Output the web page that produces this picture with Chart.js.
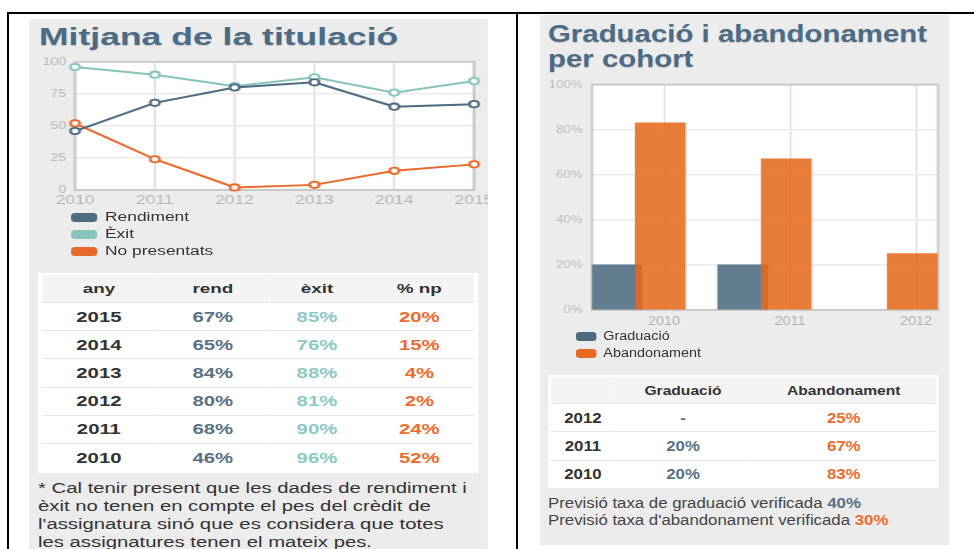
<!DOCTYPE html>
<html><head><meta charset="utf-8">
<script src="https://cdn.jsdelivr.net/npm/chart.js@4.4.1/dist/chart.umd.min.js"></script>
<style>
html,body{margin:0;padding:0;background:#fff;}
body{width:974px;height:549px;position:relative;overflow:hidden;font-family:"Liberation Sans",Arial,Helvetica,sans-serif;}
.bl{position:absolute;background:#000}
.panel{position:absolute;background:#ececec;overflow:hidden;transform-origin:0 0}
.abs{position:absolute;white-space:nowrap}
.title{font-weight:bold;font-size:24.5px;color:#4b6b86;text-shadow:0 1px 1px rgba(0,0,0,.15)}
.lg-box{position:absolute;border-radius:3px}
.lg-txt{position:absolute;font-size:12px;color:#333;white-space:nowrap}
.tw{position:absolute;background:#fff;box-sizing:border-box}
.tw table{border-collapse:collapse;table-layout:fixed;width:100%}
.tw th{background:#f4f4f4;color:#333;font-weight:bold;font-size:13px;padding:0;text-align:center}
.tw td{font-weight:bold;font-size:14px;padding:0;text-align:center;border-top:1px solid #e4e8ec;color:#333}
.note{font-size:14px;color:#333}
</style></head>
<body>
<div class="bl" style="left:7px;top:12px;width:967px;height:2px"></div>
<div class="bl" style="left:7px;top:12px;width:2px;height:537px"></div>
<div class="bl" style="left:516px;top:12px;width:2px;height:537px"></div>
<div id="pl" class="panel"></div>
<div id="pr" class="panel"></div>
<script>
// ---------- data ----------
const years = ['2010','2011','2012','2013','2014','2015'];
const rendiment = [46, 68, 80, 84, 65, 67];
const exitV = [96, 90, 81, 88, 76, 85];
const noPresentats = [52, 24, 2, 4, 15, 20];
const lineLabels = ['Rendiment', 'Èxit', 'No presentats'];
const lineTableHead = ['any', 'rend', 'èxit', '% np'];

const cohorts = [2010, 2011, 2012];
const graduacio = [20, 20, null];
const abandonament = [83, 67, 25];
const barLabels = ['Graduació', 'Abandonament'];
const previsioGrad = 40;
const previsioAband = 30;

// ---------- colours ----------
const C_SLATE = '#4c6a80', C_TEAL = '#86c3bb', C_ORANGE = '#e8692a';
const T_SLATE = '#5a7184', T_TEAL = '#8ccac3', T_ORANGE = '#eb6d2d';

// ---------- geometry (panels are horizontally stretched) ----------
const SL = 1.45, SR = 1.2;
const LP = {x:29, y:19, w:458, h:540}, RP = {x:540, y:15, w:408, h:530};
const lx = X => (X - LP.x) / SL, ly = Y => Y - LP.y;
const rx = X => (X - RP.x) / SR, ry = Y => Y - RP.y;
const px = v => v + 'px';

function setupPanel(el, P, S) {
  Object.assign(el.style, {left:px(P.x), top:px(P.y), width:px(P.w / S), height:px(P.h), transform:'scaleX(' + S + ')'});
}
function add(parent, tag, cls, css, html) {
  const e = document.createElement(tag);
  if (cls) e.className = cls;
  Object.assign(e.style, css || {});
  if (html != null) e.innerHTML = html;
  parent.appendChild(e);
  return e;
}
const pl = document.getElementById('pl'), pr = document.getElementById('pr');
setupPanel(pl, LP, SL); setupPanel(pr, RP, SR);

Chart.defaults.font.family = '"Liberation Sans", Arial, sans-serif';

const frame = {
  id: 'frame',
  beforeDraw(c) { const a = c.chartArea, x = c.ctx; x.save(); x.fillStyle = '#fff'; x.fillRect(a.left, a.top, a.width, a.height); x.restore(); },
  beforeDatasetsDraw(c, _a, o) { const a = c.chartArea, x = c.ctx; x.save(); x.strokeStyle = o.color || '#c8c8c8'; x.lineWidth = o.width || 2; x.strokeRect(a.left, a.top, a.width, a.height); x.restore(); }
};

function legendHTML(chart, panel, boxX, boxW, boxH, txtX, firstCenter, step) {
  chart.data.datasets.forEach((ds, i) => {
    const cy = firstCenter + i * step;
    add(panel, 'div', 'lg-box', {left:px(boxX), top:px(cy - boxH / 2), width:px(boxW), height:px(boxH), background:ds.borderColor});
    add(panel, 'div', 'lg-txt', {left:px(txtX), top:px(cy - step / 2), lineHeight:px(step)}, ds.label);
  });
}

// ---------- LEFT PANEL ----------
add(pl, 'div', 'abs title', {left:px(lx(39)), top:px(ly(37) - 15), lineHeight:'30px'}, 'Mitjana de la titulació');

const LCW = 330, LCH = 160, lTop = ly(50);
const lc = add(pl, 'canvas', null, {position:'absolute', left:'0px', top:px(lTop), width:px(LCW), height:px(LCH)});
lc.width = LCW; lc.height = LCH;
function mk(label, data, c) {
  return {label, data, borderColor:c, backgroundColor:c, borderWidth:2, pointRadius:3.2, pointBorderWidth:1.8,
          pointBackgroundColor:'#fff', pointBorderColor:c, tension:0, clip:false};
}
const lineChart = new Chart(lc, {
  type:'line',
  data:{labels:years, datasets:[mk(lineLabels[0], rendiment, C_SLATE), mk(lineLabels[1], exitV, C_TEAL), mk(lineLabels[2], noPresentats, C_ORANGE)]},
  options:{
    responsive:false, animation:false, events:[],
    layout:{padding:{top:ly(60) - lTop, right:LCW - lx(474), left:0, bottom:0}},
    plugins:{legend:{display:false}, tooltip:{enabled:false}, frame:{color:'#c9c9c9', width:2}},
    scales:{
      x:{grid:{color:'#e0e0e0', lineWidth:1.5, drawTicks:false}, border:{display:false},
         ticks:{color:'#b4b4b4', font:{size:12}, padding:3.8, maxRotation:0, autoSkip:false},
         afterFit:s => { s.height = LCH - (ly(190) - lTop); }},
      y:{min:0, max:100, grid:{color:'#ececec', lineWidth:1.5, drawTicks:false}, border:{display:false},
         ticks:{stepSize:25, color:'#b4b4b4', font:{size:10}, padding:lx(75) - lx(66.5)},
         afterFit:s => { s.width = lx(75); }}
    }
  },
  plugins:[frame]
});
legendHTML(lineChart, pl, lx(71.7), 25 / SL, 9, lx(105), ly(217.8), 17);

// left table
const lt = add(pl, 'div', 'tw', {left:px(lx(38)), top:px(ly(273)), width:px(lx(478) - lx(38)), padding:'2px 2.5px 2px 2.5px'});
let h = '<table><colgroup><col style="width:79px"><col style="width:78.2px"><col style="width:65.4px"><col></colgroup><tr>' +
  lineTableHead.map(t => '<th style="height:27px">' + t + '</th>').join('') + '</tr>';
for (let i = years.length - 1; i >= 0; i--) {
  h += '<tr><td style="height:27.2px">' + years[i] + '</td><td style="color:' + T_SLATE + '">' + rendiment[i] + '%</td><td style="color:' + T_TEAL + '">' +
       exitV[i] + '%</td><td style="color:' + T_ORANGE + '">' + noPresentats[i] + '%</td></tr>';
}
lt.innerHTML = h + '</table>';

add(pl, 'div', 'abs note', {left:px(lx(38)), top:px(ly(479)), lineHeight:'18px'},
  '* Cal tenir present que les dades de rendiment i<br>èxit no tenen en compte el pes del crèdit de<br>l\'assignatura sinó que es considera que totes<br>les assignatures tenen el mateix pes.');

// ---------- RIGHT PANEL ----------
add(pr, 'div', 'abs title', {left:px(rx(548)), top:px(ry(33.3) - 12.75), lineHeight:'25.5px'}, 'Graduació i abandonament<br>per cohort');

const BCW = RP.w / SR, BCH = 260, bTop = ry(70);
const bc = add(pr, 'canvas', null, {position:'absolute', left:'0px', top:px(bTop), width:px(BCW), height:px(BCH)});
bc.width = Math.round(BCW); bc.height = BCH;
const pitch = 126;                         // final px per year
const xmin = cohorts[0] - (664 - 592) / pitch;
const xmax = cohorts[cohorts.length - 1] + (938 - 916) / pitch;
const offG = -(664 - 616.7) / pitch, offA = -(664 - 660.3) / pitch;
const barChart = new Chart(bc, {
  type:'bar',
  data:{datasets:[
    {label:barLabels[0], data:cohorts.map((c, i) => ({x:c + offG, y:graduacio[i]})), backgroundColor:'rgba(76,106,128,0.87)',
     borderColor:C_SLATE, borderWidth:0, grouped:false, barThickness:50 / SR, order:1},
    {label:barLabels[1], data:cohorts.map((c, i) => ({x:c + offA, y:abandonament[i]})), backgroundColor:'rgba(229,104,28,0.87)',
     borderColor:'#e8691f', borderWidth:0, grouped:false, barThickness:50 / SR, order:0}
  ]},
  options:{
    responsive:false, animation:false, events:[],
    layout:{padding:{top:ry(80) - bTop, right:bc.width - rx(938), left:0, bottom:0}},
    plugins:{legend:{display:false}, tooltip:{enabled:false}, frame:{color:'#c9c9c9', width:2}},
    scales:{
      x:{type:'linear', min:xmin, max:xmax, offset:false,
         grid:{offset:false, color:'#e0e0e0', lineWidth:1.5, drawTicks:false}, border:{display:false},
         ticks:{stepSize:1, includeBounds:false, callback:v => String(v), color:'#adadad', font:{size:12}, padding:4.3, maxRotation:0},
         afterFit:s => { s.height = BCH - (ry(310) - bTop); }},
      y:{min:0, max:100, grid:{color:'#ebebeb', lineWidth:1.5, drawTicks:false}, border:{display:false},
         ticks:{stepSize:20, callback:v => v + '%', color:'#bbbbbb', font:{size:11}, padding:rx(592) - rx(582.5)},
         afterFit:s => { s.width = rx(592); }}
    }
  },
  plugins:[frame]
});
legendHTML(barChart, pr, rx(575.7), 20.3 / SR, 9, rx(603.3), ry(336.7), 16.6);

// right table
const rt = add(pr, 'div', 'tw', {left:px(rx(548.3)), top:px(ry(375)), width:px((939 - 548.3) / SR), padding:'2px 2px 0 2px'});
let h2 = '<table><colgroup><col style="width:53.8px"><col style="width:113px"><col></colgroup><tr><th style="height:26px"></th>' +
  barLabels.map(t => '<th>' + t + '</th>').join('') + '</tr>';
for (let i = cohorts.length - 1; i >= 0; i--) {
  h2 += '<tr><td style="height:27.3px">' + cohorts[i] + '</td><td style="color:' + T_SLATE + '">' + (graduacio[i] == null ? '-' : graduacio[i] + '%') +
        '</td><td style="color:' + T_ORANGE + '">' + abandonament[i] + '%</td></tr>';
}
rt.innerHTML = h2 + '</table>';

add(pr, 'div', 'abs note', {left:px(rx(548)), top:px(ry(494.5)), lineHeight:'17.5px', color:'#444'},
  'Previsió taxa de graduació verificada <b style="color:' + T_SLATE + '">' + previsioGrad + '%</b><br>' +
  'Previsió taxa d\'abandonament verificada <b style="color:' + T_ORANGE + '">' + previsioAband + '%</b>');
</script>
</body></html>
